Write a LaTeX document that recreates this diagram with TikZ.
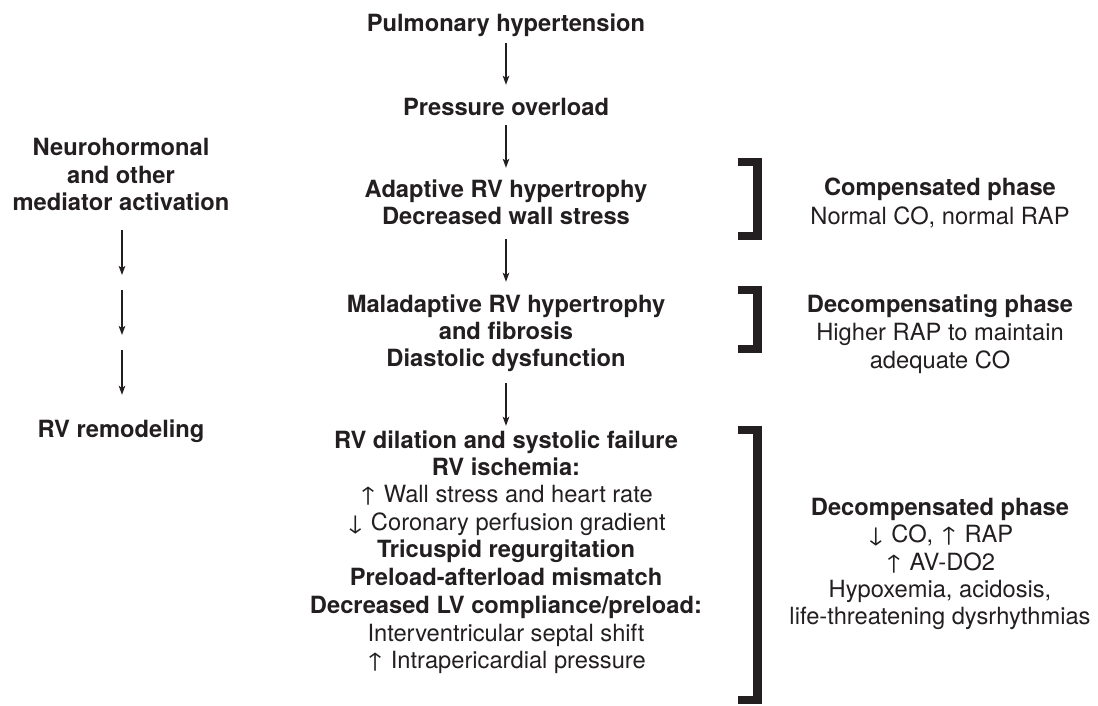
\documentclass[tikz,border=0pt]{standalone}
\usepackage{fontspec}
\setmainfont{TeX Gyre Heros}
\usetikzlibrary{arrows.meta}
\definecolor{ink}{HTML}{231F20}
\begin{document}
\begin{tikzpicture}[x=1pt,y=-1pt,
  txt/.style={anchor=base,inner sep=0pt,text height=17pt,text depth=5pt,text=ink,
    font=\fontsize{23.7}{27.5}\selectfont},
  btxt/.style={txt,font=\fontsize{23.7}{27.5}\selectfont\bfseries},
  arr/.style={draw=ink,line width=1.4pt,-{Stealth[length=9pt,width=6.5pt,inset=2pt]}},
  brk/.style={draw=ink,line width=8.5pt,miter limit=10}]
\useasboundingbox (0,0) rectangle (1098,705);
% main column
\node[btxt] (ph) at (506,31) {Pulmonary hypertension};
\node[btxt] (po) at (506,115) {Pressure overload};
\node[btxt] (a1) at (506,197) {Adaptive RV hypertrophy};
\node[btxt] (a2) at (506,224) {Decreased wall stress};
\node[btxt] (m1) at (506,312) {Maladaptive RV hypertrophy};
\node[btxt] (m2) at (506,339) {and fibrosis};
\node[btxt] (m3) at (506,366) {Diastolic dysfunction};
\node[btxt] (d1) at (506,448) {RV dilation and systolic failure};
\node[btxt] (d2) at (506,475) {RV ischemia:};
\node[txt]  (d3) at (506,502) {↑ Wall stress and heart rate};
\node[txt]  (d4) at (506,530) {↓ Coronary perfusion gradient};
\node[btxt] (d5) at (506,557) {Tricuspid regurgitation};
\node[btxt] (d6) at (506,585) {Preload-afterload mismatch};
\node[btxt] (d7) at (506,613) {Decreased LV compliance/preload:};
\node[txt]  (d8) at (506,641) {Interventricular septal shift};
\node[txt]  (d9) at (506,668) {↑ Intrapericardial pressure};
\draw[arr] ([yshift=-7pt]ph.south) -- ([yshift=13pt]po.north);
\draw[arr] ([yshift=-5pt]po.south) -- ([yshift=12pt]a1.north);
\draw[arr] ([yshift=-10pt]a2.south) -- ([yshift=13pt]m1.north);
\draw[arr] ([yshift=-12pt]m3.south) -- ([yshift=5pt]d1.north);
% left column
\node[btxt] (n1) at (121,155) {Neurohormonal};
\node[btxt] (n2) at (121,183) {and other};
\node[btxt] (n3) at (121,210) {mediator activation};
\node[btxt] (rv) at (121,437) {RV remodeling};
\coordinate (l1) at (122,275);
\coordinate (l2) at (122,290);
\coordinate (l3) at (122,335);
\coordinate (l4) at (122,350);
\draw[arr] ([xshift=1pt,yshift=-15pt]n3.south) -- (l1);
\draw[arr] (l2) -- (l3);
\draw[arr] (l4) -- ([xshift=1pt,yshift=25pt]rv.north);
% brackets
\draw[brk] (738,162) -- (757.5,162) -- (757.5,236) -- (738,236);
\draw[brk] (738,290) -- (757.5,290) -- (757.5,349) -- (738,349);
\draw[brk] (738,430) -- (757.5,430) -- (757.5,700) -- (738,700);
% right column
\node[btxt] (c1) at (940,195) {Compensated phase};
\node[txt]  (c2) at (940,224) {Normal CO, normal RAP};
\node[btxt] (e1) at (940,312) {Decompensating phase};
\node[txt]  (e2) at (940,340) {Higher RAP to maintain};
\node[txt]  (e3) at (940,368) {adequate CO};
\node[btxt] (f1) at (940,515) {Decompensated phase};
\node[txt]  (f2) at (940,542) {↓ CO, ↑ RAP};
\node[txt]  (f3) at (940,570) {↑ AV-DO2};
\node[txt]  (f4) at (940,597) {Hypoxemia, acidosis,};
\node[txt]  (f5) at (940,624) {life-threatening dysrhythmias};
\end{tikzpicture}
\end{document}
